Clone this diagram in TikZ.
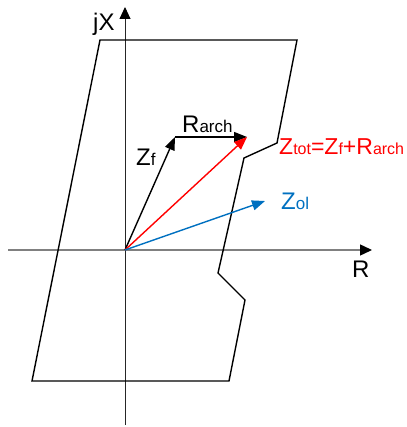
\documentclass[tikz,border=0pt]{standalone}
\usepackage{fontspec}
\setmainfont{Liberation Sans}
\usetikzlibrary{arrows.meta}
\definecolor{olblue}{RGB}{0,112,192}
\tikzset{
  lbl/.style={inner sep=0pt, anchor=base west, font=\fontsize{24}{24}\selectfont},
  vec/.style={line width=1.4pt, -{Triangle[length=13pt,width=10pt]}},
  zone/.style={line width=1.4pt, line join=miter, black},
  axtip/.style={-{Triangle[length=12pt,width=11pt,color=black]}},
}
\newcommand{\sbs}[1]{{\fontsize{17}{17}\selectfont #1}}
\newcommand{\sbt}[1]{{\fontsize{16}{16}\selectfont #1}}
\begin{document}
\begin{tikzpicture}[x=1pt,y=-1pt]
\useasboundingbox (0,0) rectangle (406,427);
% coordinates
\coordinate (O) at (125,250);
\coordinate (xl) at (8,250);
\coordinate (xr) at (372,250);
\coordinate (yb) at (125,425);
\coordinate (yt) at (125,7);
\coordinate (p1) at (100,40);
\coordinate (p2) at (297,40);
\coordinate (p3) at (277,143);
\coordinate (p4) at (244,158);
\coordinate (p5) at (218,273);
\coordinate (p6) at (245,300);
\coordinate (p7) at (229,381);
\coordinate (p8) at (32,381);
\coordinate (zf) at (175,137);
\coordinate (zt) at (247,137);
\coordinate (zol) at (265,201);
% axes
\draw[line width=1.4pt, gray, axtip] (xl) -- (xr);
\draw[line width=0.9pt, black!85, axtip] (yb) -- (yt);
% zone
\draw[zone] (p1) -- (p2) -- (p3) -- (p4) -- (p5) -- (p6) -- (p7) -- (p8) -- cycle;
% vectors
\draw[vec, black] (O) -- (zf);
\draw[vec, black] (zf) -- (zt);
\draw[vec, red] (O) -- (zt);
\draw[vec, olblue] (O) -- (zol);
% labels
\node[lbl] (ljx) at (93,31) {jX};
\node[lbl] (lr) at (352,277) {R};
\node[lbl] (lzf) at (136,166) {Z\sbs{f}};
\node[lbl] (lra) at (182,133) {R\sbs{arch}};
\node[lbl, text=red, font=\fontsize{23}{23}\selectfont] (lzt) at (279,155) {Z\sbt{tot}=Z\sbt{f}+R\sbt{arch}};
\node[lbl, text=olblue] (lzo) at (281,209) {Z\sbs{ol}};
\end{tikzpicture}
\end{document}
